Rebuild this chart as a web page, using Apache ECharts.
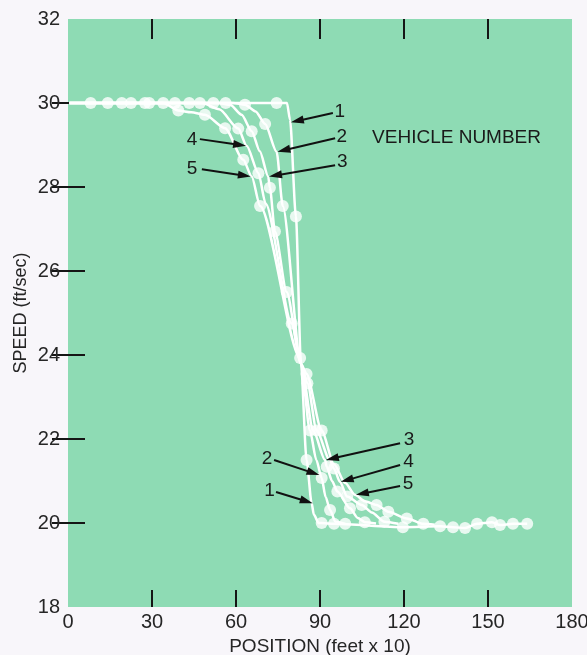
<!DOCTYPE html>
<html><head><meta charset="utf-8">
<script src="https://cdn.jsdelivr.net/npm/echarts@6/dist/echarts.min.js"></script>
<style>html,body{margin:0;padding:0;background:#f8f6fa;} #c{width:587px;height:655px;}</style>
</head><body><div id="c"></div>
<script>
// Axis ticks
const xMin = 0, xMax = 180, xStep = 30;
const yMin = 18, yMax = 32, yStep = 2;
const xInnerTicks = [30, 60, 90, 120, 150];
const yInnerTicks = [20, 22, 24, 26, 28, 30];

// Vehicle trajectories (position in feet x 10, speed ft/sec)
// dots = plotted markers, bends = unmarked points of the drawn curve
const v1Dots = [[8.1,30],[29,30],[51.9,30],[74.5,30],[81.4,27.3],[85.2,21.5],[90.6,20],[95,19.98],[119.6,19.9],[132.9,19.92],[137.5,19.9],[141.8,19.88],[146.1,19.98],[151.4,20.02],[154.3,19.95],[158.9,19.98],[164,19.98]];
const v1Bends = [[0.5,30],[78.2,30],[79.3,29.6],[83.2,23.8],[87,20.48],[87.8,20.2],[89.5,20.0]];

const v2Dots = [[14.2,30],[34,30],[56.3,30],[63.2,29.96],[70.4,29.5],[76.7,27.55],[86.4,22.2],[90.6,21.07],[93.6,20.31],[99,19.98]];
const v2Bends = [[0.5,30],[59,30],[67,29.8],[74.5,28.84],[83.2,23.8],[88.7,21.5],[92,20.62],[95.5,20.03]];

const v3Dots = [[19.2,30],[38.2,30],[47.1,30],[65.6,29.33],[72.1,27.98],[73.9,26.94],[78.1,25.5],[92.4,21.34],[96.2,20.75],[100.7,20.35],[106,20.02]];
const v3Bends = [[0.5,30],[54,30],[58,29.95],[62,29.72],[68.5,28.85],[71.5,28.25],[83.2,23.8],[87.6,22.2],[91.8,21.5],[94.3,21.0],[103.5,20.12],[110,19.99]];

const v4Dots = [[22.5,30],[43.3,30],[60.8,29.39],[68,28.33],[79.9,24.75],[85.5,23.33],[88.8,22.2],[95,21.3],[99.7,20.63],[104.9,20.43],[113,20.03]];
const v4Bends = [[0.5,30],[48,30],[54,29.85],[63.8,28.98],[70.6,27.6],[83.2,23.8],[93.5,21.5],[97.1,20.98],[108.5,20.25],[118,19.98]];

const v5Dots = [[27.5,30],[39.4,29.82],[48.9,29.72],[56.1,29.4],[62.6,28.65],[68.6,27.55],[82.9,23.93],[85.2,23.55],[90.6,22.2],[110.2,20.43],[114.4,20.27],[121,20.11],[126.9,19.98]];
const v5Bends = [[0.5,30],[34,30],[44,29.78],[65.6,28.25],[83.2,23.8],[95,21.4],[99,20.95],[102.5,20.67],[106,20.52],[131,19.96]];

// Annotations (data coordinates)
const labelTexts = ['1','2','3','4','5','3','2','4','5','1'];
const labelPos = [[97.1,29.79],[97.75,29.2],[98,28.6],[44.3,29.13],[44.3,28.43],[121.8,21.98],[71.1,21.52],[121.6,21.45],[121.4,20.94],[72,20.76]];
const arrowTails = [[94.6,29.76],[95.4,29.16],[95.4,28.52],[47.1,29.14],[47.8,28.42],[118.6,21.9],[73.6,21.5],[118.6,21.38],[118.6,20.88],[74.3,20.74]];
const arrowTips = [[79.6,29.54],[74.8,28.84],[71.8,28.25],[63.6,28.98],[65.3,28.25],[92.1,21.5],[89.8,21.14],[97.4,20.98],[102.8,20.67],[87.4,20.47]];
const titleText = 'VEHICLE NUMBER';
const titlePos = [108.6, 29.18];

const vehicles = [[v1Dots,v1Bends],[v2Dots,v2Bends],[v3Dots,v3Bends],[v4Dots,v4Bends],[v5Dots,v5Bends]];

function buildPath(dots, bends){
  return dots.concat(bends).slice().sort((a,b)=>a[0]-b[0]);
}

const font = '"Liberation Sans", Arial, Helvetica, sans-serif';
const textColor = '#262626';
const tickStyle = {color:'#151515', width:2};

const series = [];
vehicles.forEach(([dots,bends])=>{
  series.push({type:'line', data: buildPath(dots,bends), showSymbol:false, smooth:0.25, smoothMonotone:'x',
    lineStyle:{color:'#ffffff', width:2.5}, z:2, silent:true, animation:false});
});
vehicles.forEach(([dots])=>{
  series.push({type:'scatter', data: dots, symbol:'circle', symbolSize:12, itemStyle:{color:'#ffffff'}, z:3, silent:true, animation:false});
});

const chart = echarts.init(document.getElementById('c'), null, {renderer:'canvas'});
chart.setOption({
  backgroundColor:'#f8f6fa',
  animation:false,
  grid:{left:68, right:15, top:19, bottom:48, show:true, backgroundColor:'#8edbb4', borderWidth:0,
        containLabel:false, outerBoundsMode:'none'},
  xAxis:[
    {type:'value', position:'bottom', min:xMin, max:xMax, interval:xStep,
     name:'POSITION (feet x 10)', nameLocation:'middle', nameGap:30, nameMoveOverlap:false,
     nameTextStyle:{fontFamily:font, fontSize:19, color:textColor},
     axisLine:{show:false}, splitLine:{show:false},
     axisTick:{show:true, inside:true, length:17, lineStyle:tickStyle, customValues:xInnerTicks},
     axisLabel:{fontFamily:font, fontSize:20, color:textColor, margin:5}},
    {type:'value', position:'top', min:xMin, max:xMax, interval:xStep,
     axisLine:{show:false}, splitLine:{show:false}, axisLabel:{show:false},
     axisTick:{show:true, inside:true, length:20, lineStyle:tickStyle, customValues:xInnerTicks}}
  ],
  yAxis:[
    {type:'value', position:'left', min:yMin, max:yMax, interval:yStep,
     name:'SPEED (ft/sec)', nameLocation:'middle', nameGap:38, nameRotate:90, nameMoveOverlap:false,
     nameTextStyle:{fontFamily:font, fontSize:18, color:textColor},
     axisLine:{show:false}, splitLine:{show:false},
     axisTick:{show:true, inside:true, length:17, lineStyle:tickStyle, customValues:yInnerTicks},
     axisLabel:{fontFamily:font, fontSize:20, color:textColor, margin:8}},
    {type:'value', position:'right', min:yMin, max:yMax, interval:yStep,
     axisLine:{show:false}, splitLine:{show:false}, axisLabel:{show:false},
     axisTick:{show:true, inside:true, length:16, lineStyle:tickStyle, customValues:yInnerTicks}}
  ],
  series: series
});

// annotations
const px = p => chart.convertToPixel({xAxisIndex:0, yAxisIndex:0}, p);
const graphics = [];
arrowTails.forEach((t,i)=>{
  const a = px(t), b = px(arrowTips[i]);
  const dx = b[0]-a[0], dy = b[1]-a[1];
  const L = Math.sqrt(dx*dx+dy*dy);
  const ux = dx/L, uy = dy/L;
  const headLen = 13, headW = 4;
  const base = [b[0]-ux*headLen, b[1]-uy*headLen];
  graphics.push({type:'line', shape:{x1:a[0], y1:a[1], x2:base[0]+ux*2, y2:base[1]+uy*2}, style:{stroke:'#111', lineWidth:2}, z:10});
  graphics.push({type:'polygon', shape:{points:[[b[0],b[1]],[base[0]-uy*headW, base[1]+ux*headW],[base[0]+uy*headW, base[1]-ux*headW]]}, style:{fill:'#111'}, z:10});
});
labelPos.forEach((p,i)=>{
  const q = px(p);
  graphics.push({type:'text', x:q[0], y:q[1], style:{text:labelTexts[i], fontFamily:font, fontSize:19, fill:'#1a1a1a', align:'center', verticalAlign:'middle'}, z:10});
});
const tp = px(titlePos);
graphics.push({type:'text', x:tp[0], y:tp[1], style:{text:titleText, fontFamily:font, fontSize:19, fill:'#1a1a1a', align:'left', verticalAlign:'middle'}, z:10});
chart.setOption({graphic: graphics});
</script>
</body></html>
